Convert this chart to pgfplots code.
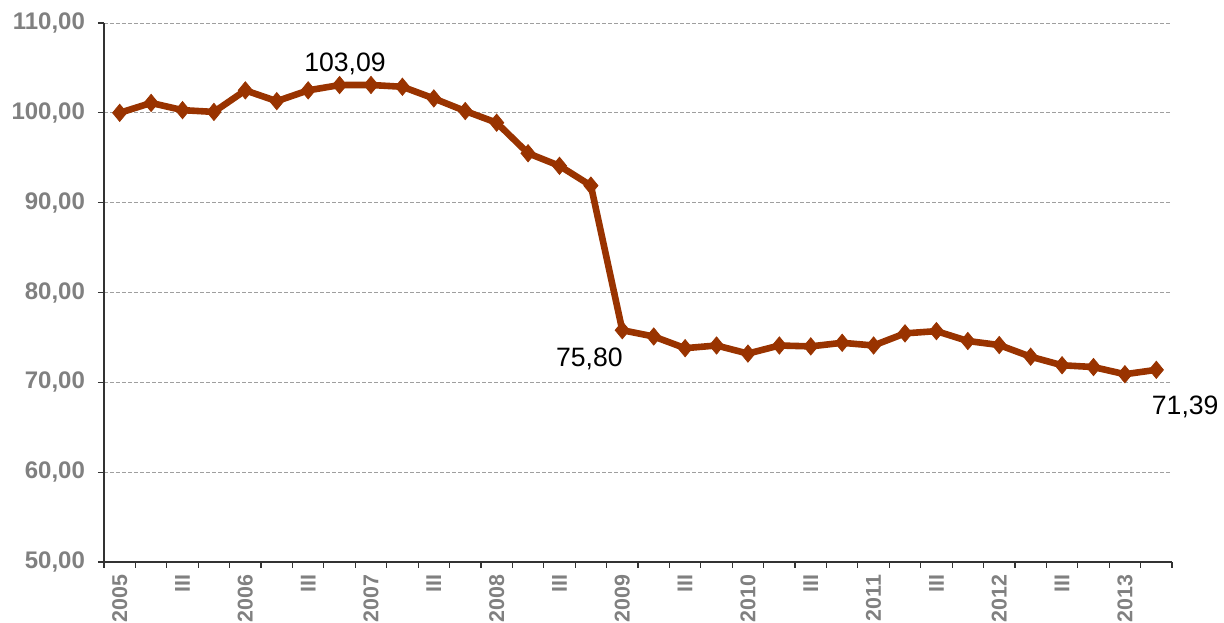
\documentclass[border=0pt]{standalone}
\usepackage{pgfplots}
\pgfplotsset{compat=1.18}
\usepackage{fontspec}
\setmainfont{Liberation Sans}
\definecolor{linec}{RGB}{153,51,0}
\definecolor{tickc}{RGB}{128,128,128}
\begin{document}
\begin{tikzpicture}
\begin{axis}[
  scale only axis,
  width=534pt, height=269.5pt,
  xmin=-0.5, xmax=33.5,
  ymin=50, ymax=110,
  ytick={50,60,...,110},
  xtick={0,2,...,32},
  xticklabels={2005,III,2006,III,2007,III,2008,III,2009,III,2010,III,2011,III,2012,III,2013},
  minor xtick={-0.5,0.5,...,33.5},
  major x tick style={draw=none},
  minor tick length=3pt,
  major tick length=3pt,
  tick align=outside,
  axis x line*=bottom, axis y line*=left,
  axis line style={black!80, line width=0.6pt},
  tick style={black!80, line width=0.6pt},
  ymajorgrids,
  grid style={dash pattern=on 2pt off 1pt, gray!75, line width=0.4pt},
  x tick label style={rotate=90, anchor=east, font=\bfseries\fontsize{10.7}{12}\selectfont, text=tickc},
  y tick label style={font=\bfseries\fontsize{12}{14}\selectfont, text=tickc, xshift=-3pt},
  yticklabel style={/pgf/number format/.cd, use comma, fixed, fixed zerofill, precision=2, 1000 sep={}, assume math mode=true},
  clip=false,
]
\addplot[linec, line width=3.3pt, mark=diamond*, mark size=4.3pt, mark options={solid, line width=0.4pt, fill=linec, xscale=1.1}]
coordinates {
(0,100.0) (1,101.1) (2,100.3) (3,100.1) (4,102.5) (5,101.3) (6,102.5) (7,103.09)
(8,103.1) (9,102.9) (10,101.6) (11,100.2) (12,98.9) (13,95.5) (14,94.1) (15,91.9)
(16,75.80) (17,75.1) (18,73.8) (19,74.1) (20,73.2) (21,74.1) (22,74.0) (23,74.4)
(24,74.1) (25,75.45) (26,75.7) (27,74.6) (28,74.15) (29,72.85) (30,71.9) (31,71.7)
(32,70.9) (33,71.39)
};
\node[font=\fontsize{13.3}{15}\selectfont] at (axis cs:7.17,105.4) {103,09};
\node[font=\fontsize{13.3}{15}\selectfont] at (axis cs:14.95,72.6) {75,80};
\node[font=\fontsize{13.3}{15}\selectfont] at (axis cs:33.92,67.3) {71,39};
\end{axis}
\pgfresetboundingbox
\path ([shift={(-52pt,-30.5pt)}]current axis.south west) rectangle ([shift={(26pt,11.5pt)}]current axis.north east);
\end{tikzpicture}
\end{document}
